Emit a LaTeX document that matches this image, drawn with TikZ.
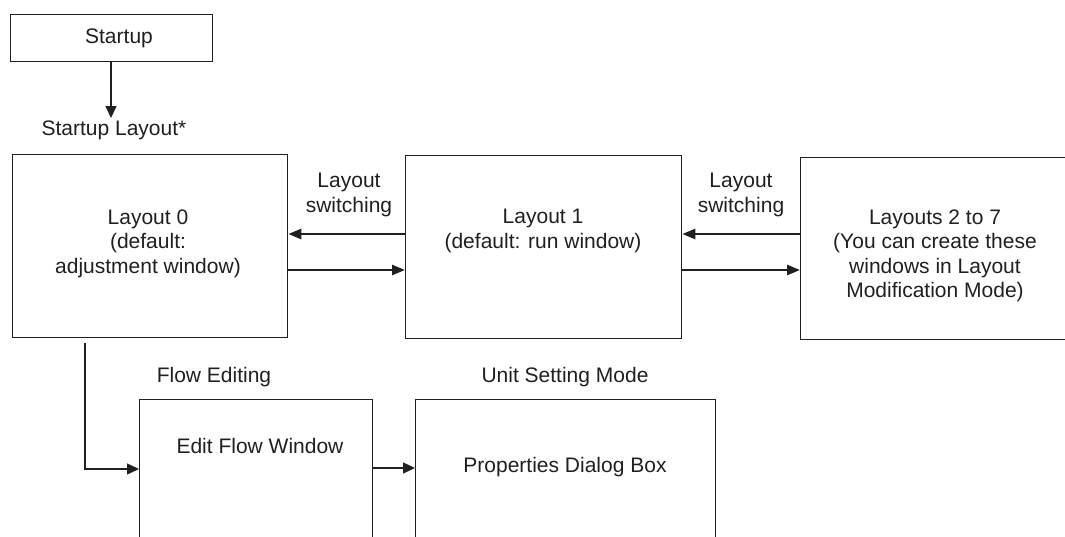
\documentclass[tikz,border=0pt]{standalone}
\usepackage{fontspec}
\setmainfont{Liberation Sans}
\usetikzlibrary{arrows.meta}
\definecolor{ink}{HTML}{231F20}
\begin{document}
\begin{tikzpicture}[x=1pt,y=-1pt,
  box/.style={draw=ink, line width=1.3pt, rectangle, inner sep=0pt, anchor=north west},
  txt/.style={text=ink, font=\fontsize{21}{24.5}\selectfont, align=center, inner sep=0pt},
  thinarrow/.style={draw=ink, line width=1.4pt, -{Triangle[length=12pt,width=11pt]}},
  thickarrow/.style={draw=ink, line width=2.6pt, -{Triangle[length=13pt,width=10pt]}}]
\clip (0,0) rectangle (1065,536);
\fill[white] (0,0) rectangle (1065,536);

% boxes
\node[box, minimum width=202pt, minimum height=47pt] (start) at (10,14) {};
\node[box, minimum width=275pt, minimum height=183pt] (L0) at (12,154) {};
\node[box, minimum width=276pt, minimum height=183pt] (L1) at (405,155) {};
\node[box, minimum width=300pt, minimum height=182pt] (L2) at (800,157) {};
\node[box, minimum width=233pt, minimum height=170pt] (EF) at (139,399) {};
\node[box, minimum width=300pt, minimum height=170pt] (PD) at (415,399) {};

% texts
\node[txt] (tstart) at (119,38) {Startup};
\node[txt] (tsl) at (114,130) {Startup Layout*};
\node[txt] (t0) at (148,243.5) {Layout 0\\(default:\\adjustment window)};
\node[txt] (t1) at (543,231) {Layout 1\\(default: run window)};
\node[txt] (t2) at (935,256) {Layouts 2 to 7\\(You can create these\\windows in Layout\\Modification Mode)};
\node[txt] (sw1) at (349,195) {Layout\\switching};
\node[txt] (sw2) at (741,195) {Layout\\switching};
\node[txt] (tfe) at (214,377) {Flow Editing};
\node[txt] (tus) at (565,377) {Unit Setting Mode};
\node[txt] (tef) at (260,446) {Edit Flow Window};
\node[txt] (tpd) at (565,467) {Properties Dialog Box};

% connectors
\coordinate (sa) at (start.south -| 111,0);
\draw[thinarrow] (sa) -- (sa |- 0,118);

\draw[thickarrow] (L1.west |- 0,234) -- (L0.east |- 0,234);
\draw[thickarrow] (L0.east |- 0,270) -- (L1.west |- 0,270);
\draw[thickarrow] (L2.west |- 0,234) -- (L1.east |- 0,234);
\draw[thickarrow] (L1.east |- 0,270) -- (L2.west |- 0,270);

\coordinate (fe0) at (85,343);
\draw[thinarrow] (fe0) -- (85,469) -- (EF.west |- 0,469);
\draw[thinarrow] (EF.east |- 0,468) -- (PD.west |- 0,468);
\end{tikzpicture}
\end{document}
